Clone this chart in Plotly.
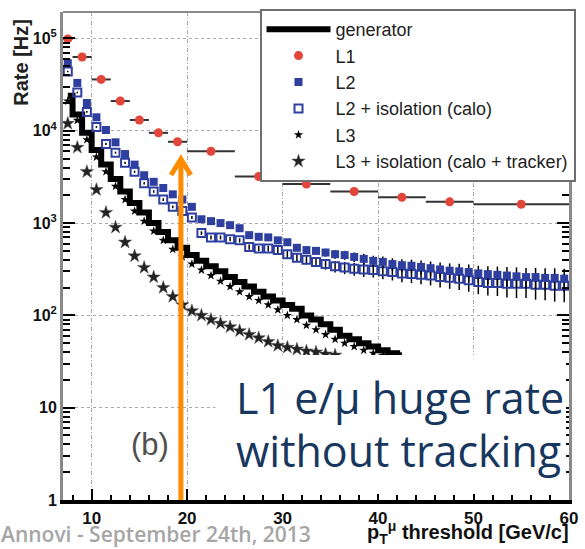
import plotly.graph_objects as go

# ---------------- data ----------------
pt_bins = [7.5, 8.5, 9.5, 10.5, 11.5, 12.5, 13.5, 14.5, 15.5, 16.5, 17.5, 18.5, 19.5,
           20.5, 21.5, 22.5, 23.5, 24.5, 25.5, 26.5, 27.5, 28.5, 29.5, 30.5, 31.5,
           32.5, 33.5, 34.5, 35.5, 36.5, 37.5, 38.5, 39.5, 40.5, 41.5, 42.5, 43.5,
           44.5, 45.5, 46.5, 47.5, 48.5, 49.5, 50.5, 51.5, 52.5, 53.5, 54.5, 55.5,
           56.5, 57.5, 58.5, 59.5]

generator = [24000, 15000, 9500, 6200, 4300, 3000, 2200, 1650, 1300, 1000, 800, 650,
             540, 450, 390, 340, 300, 260, 230, 205, 180, 160, 145, 130, 118, 100,
             90, 80, 70, 60, 55, 50, 46, 42, 39, 37]

l1_x = [7.5, 9, 11, 13, 15, 17, 19, 22.5, 27.5, 32.5, 37.5, 42.5, 47.5, 55]
l1_xerr = [0.5, 1, 1, 1, 1, 1, 1, 2.5, 2.5, 2.5, 2.5, 2.5, 2.5, 5]
l1 = [99000, 63000, 36000, 21000, 13100, 9500, 7600, 6000, 3200, 2650, 2200,
      1900, 1700, 1600]

l2 = [54000, 33000, 20000, 14000, 10200, 7500, 5600, 4300, 3300, 2800, 2400, 2050,
      1800, 1500, 1100, 1050, 1000, 950, 880, 740, 710, 700, 650, 620, 540, 510,
      500, 480, 460, 450, 430, 410, 390, 380, 360, 350, 345, 335, 325, 315, 305,
      300, 295, 285, 280, 275, 270, 265, 260, 260, 255, 255, 250]

l2_iso = [44000, 26000, 16000, 11000, 7200, 5800, 4500, 3600, 2700, 2200, 1800, 1500,
          1350, 1150, 780, 700, 700, 670, 650, 550, 530, 530, 510, 460, 420, 400,
          380, 360, 340, 330, 320, 315, 310, 300, 295, 285, 280, 275, 270, 260, 255,
          250, 240, 230, 225, 225, 220, 220, 220, 215, 215, 210, 210]

l2_err = [800, 500, 350, 250, 200, 150, 120, 100, 80, 70, 60, 55, 50, 45, 35, 35, 35,
          35, 35, 35, 35, 38, 40, 41, 42, 44, 46, 47, 48, 50, 51, 54, 53, 54, 56, 57,
          56, 58, 59, 60, 61, 62, 60, 60, 61, 63, 64, 66, 66, 67, 69, 69, 71]

l3 = [21000, 13000, 8000, 5200, 3600, 2500, 1800, 1350, 1050, 820, 650, 520, 430,
      360, 310, 270, 235, 205, 180, 160, 145, 130, 115, 100, 90, 78, 70, 62, 55,
      50, 46, 42, 39, 37]

l3_iso = [12000, 6600, 3600, 2300, 1300, 900, 620, 440, 330, 260, 200, 160, 130,
          112, 100, 90, 82, 75, 68, 62, 57, 52, 47, 45, 43, 41, 40, 38, 37]

x_ticks = [10, 20, 30, 40, 50, 60]
y_ticks = [1, 10, 100, 1000, 10000, 100000]
y_ticktext = ["1", "10", "10<sup>2</sup>", "10<sup>3</sup>", "10<sup>4</sup>", "10<sup>5</sup>"]

# ---------------- styling ----------------
ARIAL = "Liberation Sans, Arial, sans-serif"
RED = "#e2453a"
BLUE = "#2f3f9f"

W, H = 585, 549
L, R, T, B = 63, 7, 12, 49
PW, PH = W - L - R, H - T - B


def px(xp):
    return (xp - L) / PW


def py(yp):
    return (H - B - yp) / PH


fig = go.Figure()

fig.add_trace(go.Scatter(
    x=pt_bins[:len(generator)], y=generator, mode="lines", name="generator",
    line=dict(color="black", width=6, shape="hvh"), legendrank=1))

fig.add_trace(go.Scatter(
    x=pt_bins[:len(l3)], y=l3, mode="markers", name="L3",
    marker=dict(symbol="star", size=7, color="black"), legendrank=5))

fig.add_trace(go.Scatter(
    x=pt_bins[:len(l3_iso)], y=l3_iso, mode="markers",
    name="L3 + isolation (calo + tracker)",
    marker=dict(symbol="star", size=10, color="#222222",
                line=dict(color="#555555", width=0.5)), legendrank=6))

fig.add_trace(go.Scatter(
    x=pt_bins, y=l2_iso, mode="markers", name="L2 + isolation (calo)",
    marker=dict(symbol="square-open", size=8, color=BLUE, line=dict(width=2)),
    error_y=dict(type="data", array=l2_err, color="black", thickness=1.5, width=0),
    legendrank=4))

fig.add_trace(go.Scatter(
    x=pt_bins, y=l2, mode="markers", name="L2",
    marker=dict(symbol="square", size=8, color=BLUE),
    error_y=dict(type="data", array=l2_err, color="black", thickness=1.5, width=0),
    legendrank=3))

fig.add_trace(go.Scatter(
    x=l1_x, y=l1, mode="markers", name="L1",
    marker=dict(symbol="circle", size=9, color=RED),
    error_x=dict(type="data", array=l1_xerr, color="#333333", thickness=2, width=0),
    legendrank=2))

minor_y = [k * 10 ** d for d in range(0, 6) for k in range(2, 10) if k * 10 ** d < 10 ** 5.29]

fig.update_layout(
    width=W, height=H,
    margin=dict(l=L, r=R, t=T, b=B),
    paper_bgcolor="white", plot_bgcolor="white",
    font=dict(family=ARIAL, color="#111111"),
    showlegend=True,
    legend=dict(
        x=px(263), y=py(9), xanchor="left", yanchor="top",
        bgcolor="white", bordercolor="#6e6e6e", borderwidth=2,
        font=dict(family=ARIAL, size=18, color="#222222"),
        itemwidth=64, tracegroupgap=0,
    ),
    xaxis=dict(
        range=[7, 60], tickvals=x_ticks,
        ticks="inside", ticklen=11, tickwidth=2, tickcolor="black",
        tickfont=dict(family=ARIAL, size=17, weight="bold", color="#111111"),
        showline=True, linecolor="black", linewidth=4, mirror=False,
        showgrid=True, gridcolor="#a8a8a8", gridwidth=1, griddash="4px,2px,1px,2px",
        zeroline=False,
        minor=dict(dtick=2, ticks="inside", ticklen=5, tickwidth=1.5,
                   tickcolor="black", showgrid=False),
    ),
    yaxis=dict(
        type="log", range=[0, 5.287],
        tickvals=y_ticks, ticktext=y_ticktext,
        ticks="inside", ticklen=12, tickwidth=2, tickcolor="black",
        tickfont=dict(family=ARIAL, size=16, weight="bold", color="#111111"),
        showline=True, linecolor="#8a8a8a", linewidth=3, mirror="ticks",
        showgrid=True, gridcolor="#a8a8a8", gridwidth=1, griddash="3px,3px",
        zeroline=False,
        minor=dict(tickvals=minor_y, ticks="inside", ticklen=7, tickwidth=2,
                   tickcolor="black", showgrid=False),
    ),
)

shapes = [
    # top frame
    dict(type="line", xref="paper", yref="paper", x0=0, x1=1, y0=1, y1=1,
         line=dict(color="#8a8a8a", width=2), layer="above"),
    # white box behind annotation text
    dict(type="rect", xref="paper", yref="paper",
         x0=px(218), x1=px(575), y0=py(494), y1=py(355),
         fillcolor="white", line=dict(width=0), layer="above"),
    # orange arrow
    dict(type="path", xref="paper", yref="paper",
         path=(f"M {px(183)},{py(500)} L {px(183)},{py(160)} "
               f"M {px(173)},{py(175)} L {px(183)},{py(159)} L {px(193)},{py(175)}"),
         line=dict(color="#ff8c00", width=5), layer="above"),
]
fig.update_layout(shapes=shapes)

BIG = dict(family="Open Sans, sans-serif", size=43, color="#17375e")

annotations = [
    dict(text="(b)", xref="paper", yref="paper", x=px(152), y=py(444),
         xanchor="center", yanchor="middle", showarrow=False,
         font=dict(family=ARIAL, size=31, color="#505050")),
    dict(text="L1 e/μ huge rate", xref="paper", yref="paper",
         x=px(237), y=py(397), xanchor="left", yanchor="middle", align="left",
         showarrow=False, font=BIG),
    dict(text="without tracking", xref="paper", yref="paper",
         x=px(237), y=py(450), xanchor="left", yanchor="middle", align="left",
         showarrow=False, font=BIG),
    dict(text="Annovi - September 24th, 2013", xref="paper", yref="paper",
         x=px(-2), y=py(549), xanchor="left", yanchor="bottom", yshift=-1,
         showarrow=False,
         font=dict(family="Open Sans, sans-serif", size=21, weight=600,
                   color="#a6a6a6")),
    dict(text="p<sub>T</sub><sup>μ</sup> threshold [GeV/c]", xref="paper",
         yref="paper", x=px(580), y=py(549), xanchor="right", yanchor="bottom",
         showarrow=False,
         font=dict(family=ARIAL, size=20, weight="bold", color="#111111")),
    dict(text="Rate [Hz]", xref="paper", yref="paper", x=px(20), y=py(62),
         xanchor="center", yanchor="middle", textangle=-90, showarrow=False,
         font=dict(family=ARIAL, size=20, weight="bold", color="#222222")),
]
fig.update_layout(annotations=annotations)

fig.write_html("out.html")
